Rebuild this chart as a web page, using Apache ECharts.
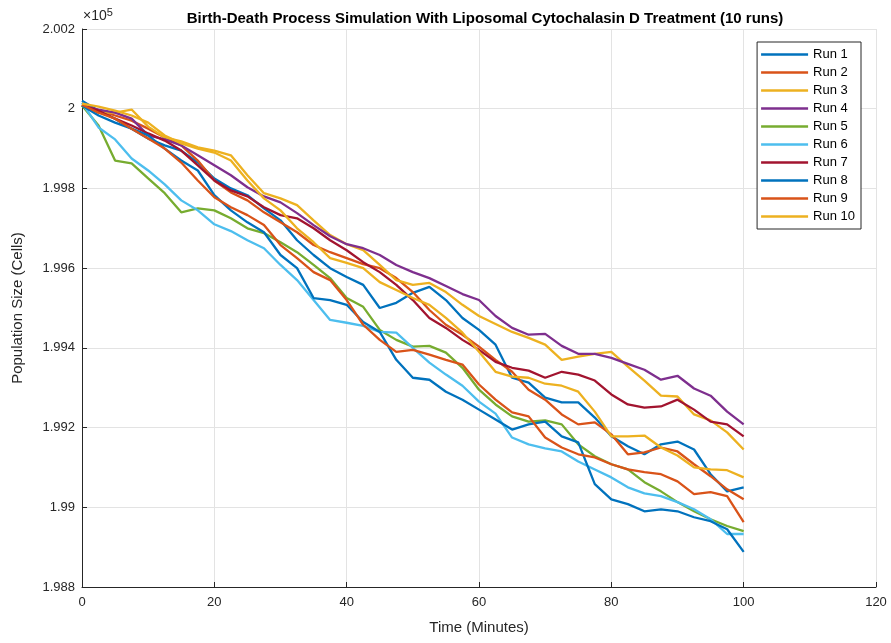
<!DOCTYPE html>
<html>
<head>
<meta charset="utf-8">
<script src="https://cdn.jsdelivr.net/npm/echarts@6/dist/echarts.min.js"></script>
<style>
  html, body { margin: 0; padding: 0; background: #fff; }
  #chart { width: 891px; height: 643px; }
</style>
</head>
<body>
<div id="chart"></div>
<script>
// time points (minutes)
const minutes = [0, 2.5, 5, 7.5, 10, 12.5, 15, 17.5, 20, 22.5, 25, 27.5, 30, 32.5, 35, 37.5, 40, 42.5, 45, 47.5,
  50, 52.5, 55, 57.5, 60, 62.5, 65, 67.5, 70, 72.5, 75, 77.5, 80, 82.5, 85, 87.5, 90, 92.5, 95, 97.5, 100]

// population per run (cells)
const run1 = [200020, 199995, 199975, 199950, 199925, 199908, 199895, 199865, 199825, 199800, 199783, 199750, 199720, 199670,
  199633, 199600, 199578, 199558, 199500, 199513, 199538, 199553, 199520, 199475, 199445, 199408, 199325, 199313, 199275,
  199263, 199263, 199225, 199178, 199153, 199133, 199158, 199165, 199145, 199083, 199040, 199050]
const run2 = [200010, 199995, 199983, 199970, 199950, 199928, 199908, 199870, 199820, 199790, 199770, 199740, 199715, 199690,
  199658, 199640, 199625, 199610, 199600, 199575, 199540, 199495, 199458, 199433, 199403, 199370, 199340, 199295, 199270,
  199233, 199208, 199213, 199183, 199133, 199138, 199150, 199140, 199108, 199078, 199045, 199020]
const run3 = [200010, 199990, 199990, 199998, 199955, 199928, 199918, 199903, 199895, 199883, 199833, 199788, 199775, 199758,
  199720, 199683, 199660, 199645, 199608, 199570, 199558, 199563, 199540, 199508, 199480, 199460, 199440, 199425, 199408,
  199370, 199378, 199385, 199390, 199353, 199318, 199280, 199278, 199233, 199218, 199188, 199145]
const run4 = [200008, 199998, 199990, 199975, 199933, 199923, 199908, 199883, 199858, 199833, 199803, 199780, 199765, 199738,
  199708, 199680, 199660, 199650, 199633, 199608, 199590, 199575, 199555, 199535, 199520, 199480, 199450, 199433, 199435,
  199405, 199385, 199385, 199375, 199360, 199345, 199320, 199330, 199298, 199280, 199240, 199208]
const run5 = [200008, 199958, 199870, 199863, 199825, 199788, 199740, 199750, 199745, 199725, 199700, 199688, 199665, 199640,
  199608, 199575, 199525, 199503, 199445, 199420, 199403, 199405, 199388, 199350, 199295, 199258, 199228, 199215, 199218,
  199208, 199158, 199128, 199108, 199095, 199063, 199040, 199013, 198990, 198970, 198953, 198940]
const run6 = [200015, 199953, 199923, 199875, 199845, 199810, 199770, 199745, 199710, 199693, 199670, 199650, 199608, 199570,
  199520, 199470, 199463, 199455, 199440, 199438, 199400, 199363, 199333, 199305, 199265, 199235, 199175, 199158, 199148,
  199140, 199115, 199095, 199075, 199050, 199035, 199028, 199013, 198995, 198970, 198933, 198933]
const run7 = [200008, 199995, 199975, 199958, 199938, 199920, 199895, 199858, 199820, 199795, 199780, 199753, 199733, 199725,
  199700, 199670, 199645, 199615, 199590, 199558, 199520, 199475, 199450, 199420, 199395, 199365, 199350, 199343, 199325,
  199340, 199333, 199318, 199283, 199258, 199250, 199253, 199270, 199245, 199215, 199208, 199178]
const run8 = [200008, 199983, 199965, 199950, 199933, 199900, 199870, 199845, 199783, 199745, 199715, 199690, 199633, 199600,
  199525, 199520, 199508, 199465, 199440, 199370, 199325, 199320, 199290, 199270, 199245, 199220, 199195, 199208, 199215,
  199178, 199163, 199058, 199020, 199008, 198990, 198995, 198990, 198975, 198965, 198945, 198888]
const run9 = [200010, 199990, 199975, 199950, 199925, 199900, 199865, 199820, 199778, 199753, 199733, 199708, 199658, 199625,
  199590, 199570, 199520, 199458, 199420, 199390, 199395, 199383, 199370, 199358, 199308, 199270, 199238, 199228, 199175,
  199150, 199133, 199125, 199108, 199095, 199088, 199083, 199065, 199033, 199038, 199028, 198963]
const run10 = [200013, 200005, 199995, 199983, 199965, 199933, 199913, 199900, 199890, 199870, 199820, 199775, 199745, 199700,
  199665, 199625, 199613, 199600, 199565, 199545, 199525, 199508, 199475, 199438, 199390, 199340, 199328, 199325, 199310,
  199305, 199290, 199240, 199178, 199178, 199180, 199150, 199130, 199100, 199095, 199093, 199075]

const runNames = ['Run 1', 'Run 2', 'Run 3', 'Run 4', 'Run 5', 'Run 6', 'Run 7', 'Run 8', 'Run 9', 'Run 10']
const runs = [run1, run2, run3, run4, run5, run6, run7, run8, run9, run10]
const colors = ['#0072BD', '#D95319', '#EDB120', '#7E2F8E', '#77AC30', '#4DBEEE', '#A2142F', '#0072BD', '#D95319', '#EDB120']

const yTicks = [198800, 199000, 199200, 199400, 199600, 199800, 200000, 200200]
const xTicks = [0, 20, 40, 60, 80, 100, 120]

const font = 'Liberation Sans, Arial, sans-serif'
const axisColor = '#262626'

const series = runs.map((r, i) => ({
  name: runNames[i],
  type: 'line',
  symbol: 'none',
  color: colors[i],
  lineStyle: { width: 2.3, color: colors[i] },
  data: minutes.map((t, k) => [t, r[k]])
}))

const option = {
  animation: false,
  backgroundColor: '#fff',
  title: {
    text: 'Birth-Death Process Simulation With Liposomal Cytochalasin D Treatment (10 runs)',
    left: 480,
    textAlign: 'center',
    top: 6,
    textStyle: { fontFamily: font, fontSize: 15, fontWeight: 'bold', color: '#000' }
  },
  graphic: [{
    type: 'text',
    left: 83,
    top: 7,
    style: {
      text: '{a|×10}{b|5}',
      rich: {
        a: { fontFamily: font, fontSize: 14, fill: axisColor },
        b: { fontFamily: font, fontSize: 11, fill: axisColor, verticalAlign: 'top', padding: [0, 0, 8, 0] }
      }
    }
  }],
  legend: {
    orient: 'vertical',
    right: 30,
    top: 42,
    width: 105,
    data: runNames,
    icon: 'path://M0,6 L40,6 L40,8.3 L0,8.3 Z',
    itemWidth: 47,
    itemHeight: 14,
    itemGap: 5,
    padding: [6, 6, 6, 4],
    borderColor: axisColor,
    borderWidth: 1,
    borderRadius: 0,
    backgroundColor: '#fff',
    textStyle: { fontFamily: font, fontSize: 13, color: '#000' }
  },
  grid: { left: 82, right: 15, top: 29, bottom: 56, containLabel: false },
  xAxis: {
    type: 'value',
    min: 0,
    max: 120,
    interval: 20,
    name: 'Time (Minutes)',
    nameLocation: 'middle',
    nameGap: 33,
    nameTextStyle: { fontFamily: font, fontSize: 15, color: axisColor },
    axisLine: { show: true, onZero: false, lineStyle: { color: axisColor, width: 1 } },
    axisTick: { show: true, inside: true, length: 5, lineStyle: { color: axisColor } },
    axisLabel: {
      fontFamily: font, fontSize: 13, color: axisColor, margin: 9,
      formatter: v => xTicks.includes(v) ? String(v) : ''
    },
    splitLine: { show: true, lineStyle: { color: '#e3e3e3', width: 1 } }
  },
  yAxis: {
    type: 'value',
    min: 198800,
    max: 200200,
    interval: 200,
    name: 'Population Size (Cells)',
    nameLocation: 'middle',
    nameGap: 57,
    nameTextStyle: { fontFamily: font, fontSize: 15, color: axisColor },
    axisLine: { show: true, onZero: false, lineStyle: { color: axisColor, width: 1 } },
    axisTick: { show: true, inside: true, length: 5, lineStyle: { color: axisColor } },
    axisLabel: {
      fontFamily: font, fontSize: 13, color: axisColor, margin: 7,
      formatter: v => yTicks.includes(v) ? String(parseFloat((v / 1e5).toFixed(3))) : ''
    },
    splitLine: { show: true, lineStyle: { color: '#e3e3e3', width: 1 } }
  },
  series: series
}

let myChart = echarts.init(document.getElementById('chart'))
myChart.setOption(option)
</script>
</body>
</html>
